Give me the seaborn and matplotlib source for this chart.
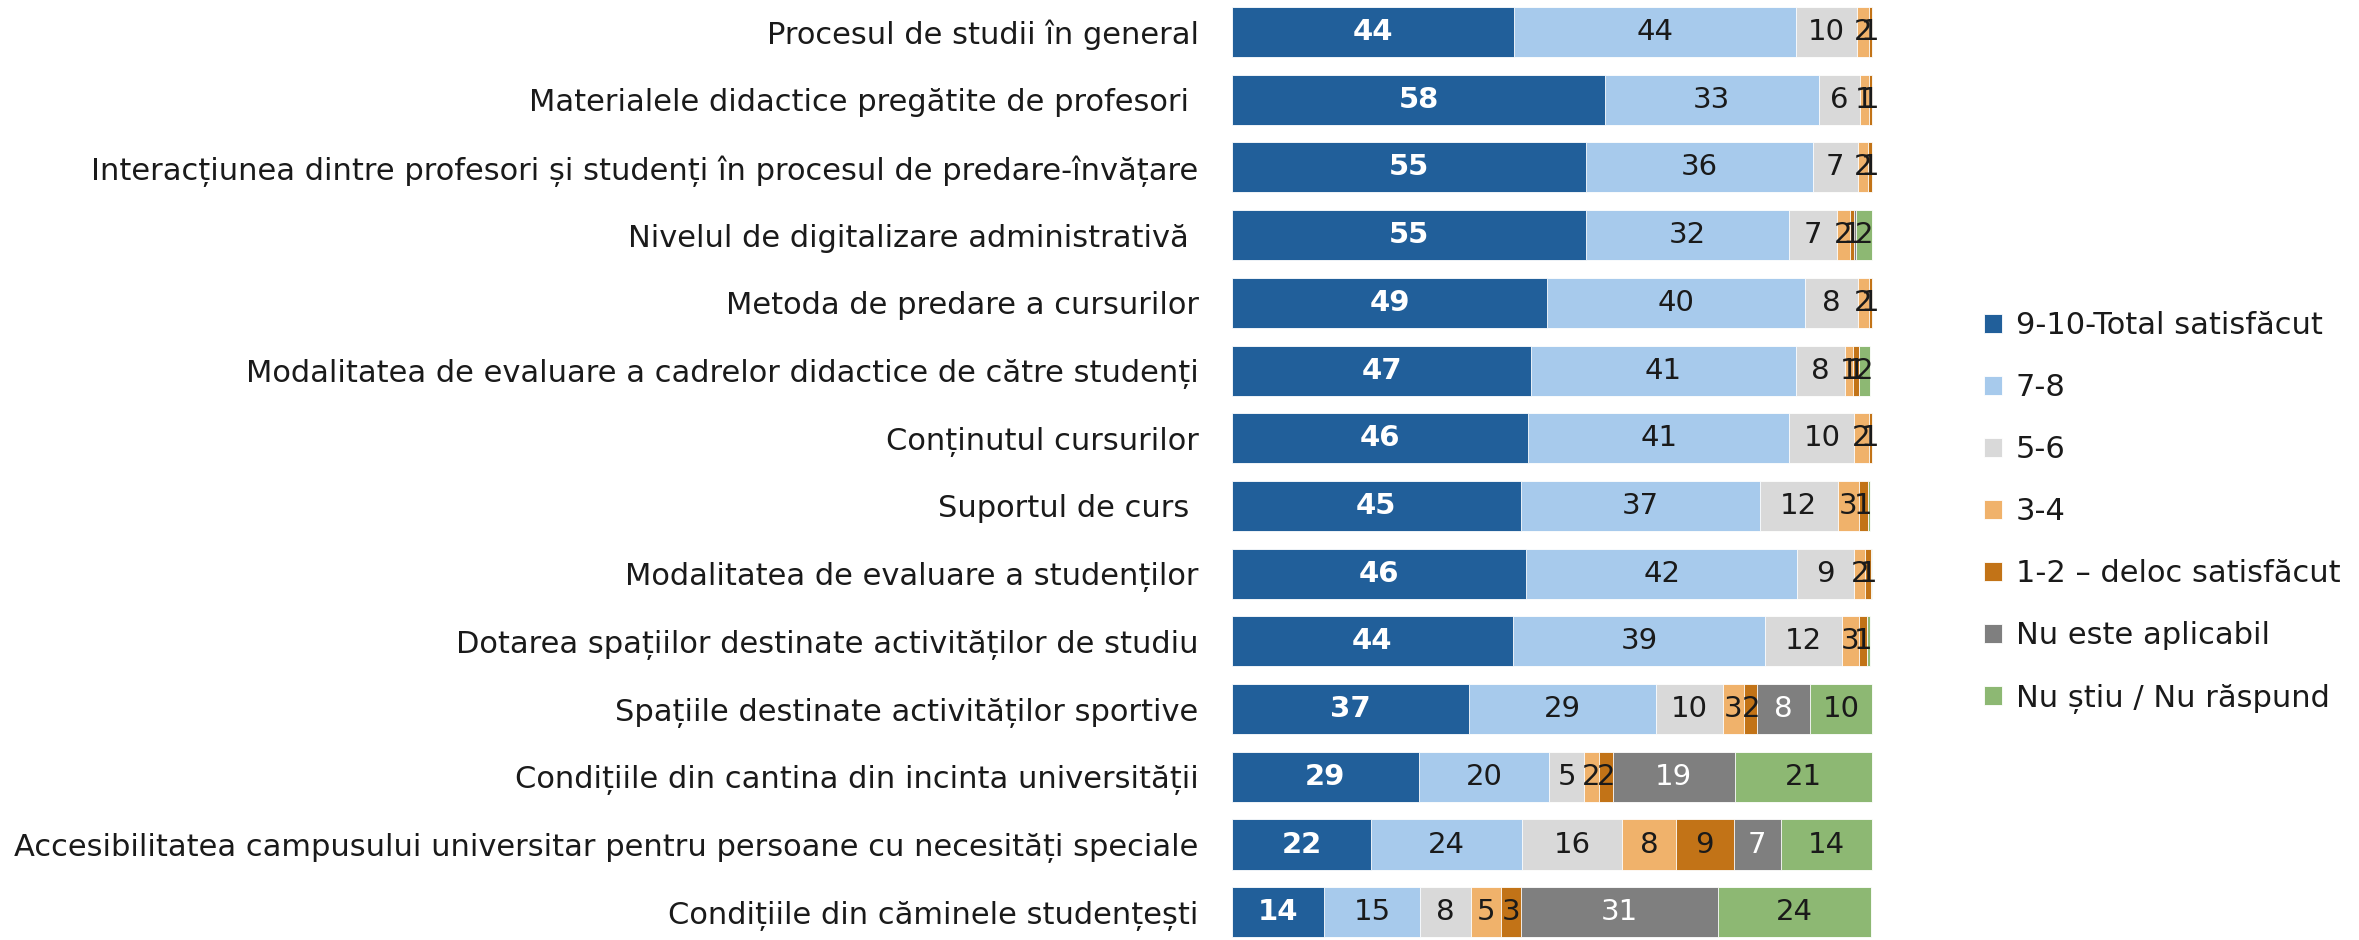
import matplotlib
matplotlib.use("Agg")
import matplotlib.pyplot as plt
import seaborn as sns
import numpy as np
import pandas as pd

categories = [
    "Procesul de studii în general",
    "Materialele didactice pregătite de profesori ",
    "Interacțiunea dintre profesori și studenți în procesul de predare-învățare",
    "Nivelul de digitalizare administrativă ",
    "Metoda de predare a cursurilor",
    "Modalitatea de evaluare a cadrelor didactice de către studenți",
    "Conținutul cursurilor",
    "Suportul de curs ",
    "Modalitatea de evaluare a studenților",
    "Dotarea spațiilor destinate activităților de studiu",
    "Spațiile destinate activităților sportive",
    "Condițiile din cantina din incinta universității",
    "Accesibilitatea campusului universitar pentru persoane cu necesități speciale",
    "Condițiile din căminele studențești",
]
series_names = ["9-10-Total satisfăcut", "7-8", "5-6", "3-4",
                "1-2 – deloc satisfăcut", "Nu este aplicabil", "Nu știu / Nu răspund"]
s_9_10 = [44.1, 58.3, 55.3, 55.3, 49.3, 46.8, 46.3, 45.1, 46.0, 43.9, 37.1, 29.2, 21.7, 14.4]
s_7_8 = [44.0, 33.4, 35.5, 31.8, 40.2, 41.3, 40.8, 37.4, 42.3, 39.4, 29.2, 20.4, 23.7, 15.0]
s_5_6 = [9.6, 6.4, 7.0, 7.4, 8.3, 7.7, 10.2, 12.2, 9.0, 12.0, 10.4, 5.4, 15.6, 7.9]
s_3_4 = [1.8, 1.4, 1.6, 2.1, 1.7, 1.2, 2.2, 3.3, 1.7, 2.7, 3.4, 2.4, 8.4, 4.7]
s_1_2 = [0.6, 0.6, 0.7, 0.7, 0.6, 1.0, 0.6, 1.4, 0.9, 1.3, 2.0, 2.1, 9.0, 3.1]
s_na = [0.0, 0.0, 0.0, 0.3, 0.0, 0.0, 0.0, 0.0, 0.0, 0.0, 8.3, 19.1, 7.4, 30.9]
s_ns = [0.2, 0.1, 0.1, 2.4, 0.1, 1.7, 0.1, 0.4, 0.1, 0.4, 9.6, 21.4, 14.2, 23.9]

colors = ["#215F9A", "#A7CAEC", "#D9D9D9", "#F0B26B", "#C27317", "#7F7F7F", "#8DB873"]
text_colors = ["white", "#1a1a1a", "#1a1a1a", "#1a1a1a", "#1a1a1a", "white", "#1a1a1a"]

sns.set_theme(style="white")
plt.rcParams["font.family"] = ["DejaVu Sans"]

series = [s_9_10, s_7_8, s_5_6, s_3_4, s_1_2, s_na, s_ns]
vals = np.array(series)
cums = np.cumsum(vals, axis=0)

fig = plt.figure(figsize=(23.59, 9.40), dpi=100)
ax = fig.add_axes([1232 / 2359, 0.0, 641 / 2359, 1.0])

for i in range(len(series) - 1, -1, -1):
    df = pd.DataFrame({"cat": categories, "x": cums[i]})
    sns.barplot(data=df, x="x", y="cat", orient="h", color=colors[i], ax=ax,
                width=0.74, edgecolor="white", linewidth=0.6, saturation=1,
                label=series_names[i])

for i in range(len(series)):
    for j, cat in enumerate(categories):
        v = vals[i, j]
        if v >= 0.5 and round(v) >= 1:
            ax.text(cums[i, j] - v / 2, j, f"{int(round(v))}", ha="center", va="center",
                    color=text_colors[i], fontsize=21,
                    fontweight="bold" if i == 0 else "normal")

ax.set_xlim(0, 100.2)
ax.set_ylim(13.41, -0.473)
ax.set_xlabel("")
ax.set_ylabel("")
ax.set_xticks([])
ax.tick_params(axis="y", length=0, pad=24, labelsize=22, labelcolor="#1a1a1a")
for s in ax.spines.values():
    s.set_visible(False)

h, l = ax.get_legend_handles_labels()
order = [l.index(n) for n in series_names]
leg = ax.legend([h[k] for k in order], [l[k] for k in order],
                loc="upper left", bbox_to_anchor=(1956 / 2359, 1 - 284 / 940),
                bbox_transform=fig.transFigure, frameon=False, fontsize=22,
                handlelength=0.6, handleheight=0.6, handletextpad=0.45, labelspacing=1.08)
for t in leg.get_texts():
    t.set_color("#1a1a1a")

fig.savefig("out.png", dpi=100)
